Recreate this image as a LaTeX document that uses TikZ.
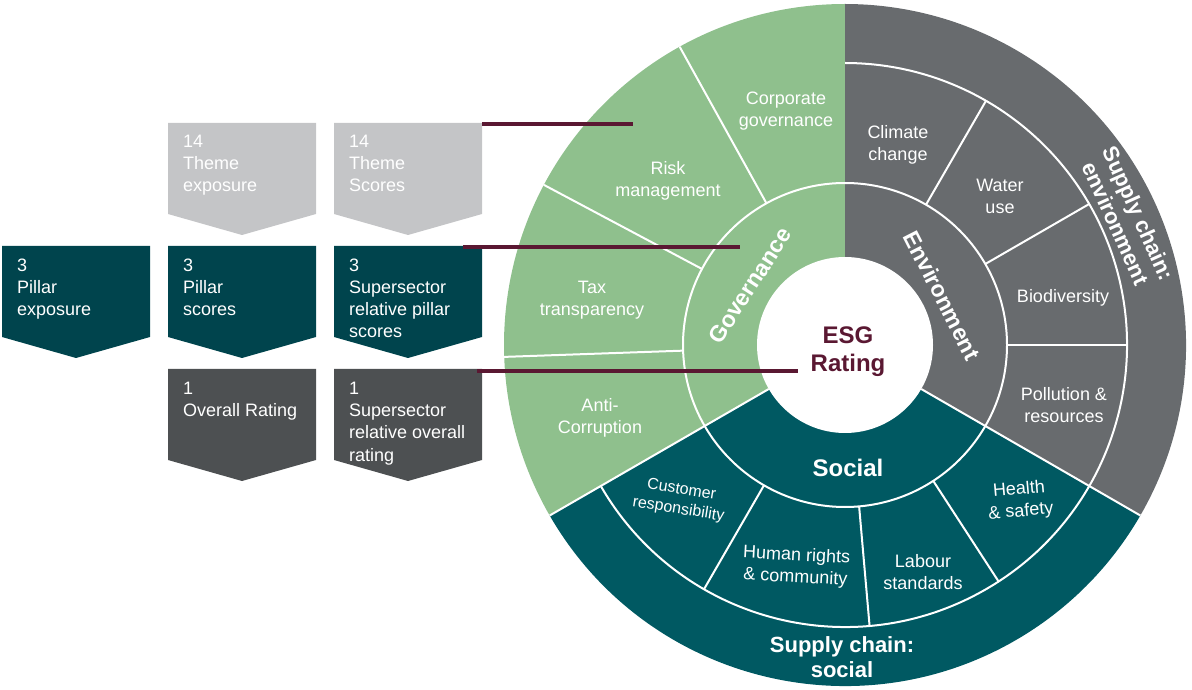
\documentclass[tikz,border=0pt]{standalone}
\usepackage{fontspec}
\setmainfont{Liberation Sans}
\definecolor{govgreen}{RGB}{143,192,141}
\definecolor{envgray}{RGB}{104,107,110}
\definecolor{socteal}{RGB}{0,89,98}
\definecolor{boxteal}{RGB}{0,68,77}
\definecolor{boxlight}{RGB}{196,197,199}
\definecolor{boxdark}{RGB}{77,80,82}
\definecolor{maroon}{RGB}{90,24,50}
\tikzset{
  divider/.style={white, line width=2pt},
  theme/.style={text=white, font=\fontsize{18}{22}\selectfont, align=center, inner sep=0pt},
  pillar/.style={text=white, font=\fontsize{23}{27}\selectfont\bfseries, align=center, inner sep=0pt},
  chain/.style={text=white, font=\fontsize{22}{25}\selectfont\bfseries, align=center, inner sep=0pt},
  boxtext/.style={text=white, font=\fontsize{18}{22}\selectfont, align=left, inner sep=0pt, anchor=base west},
  conn/.style={maroon, line width=3.5pt},
}
\newcommand{\chevbox}[3]{%
  \fill[#3] (#1,#2) -- ++(148,0) -- ++(0,-91) -- ++(-74,-21) -- ++(-74,21) -- cycle;}
\begin{document}
\begin{tikzpicture}[x=1pt,y=1pt]
\useasboundingbox (0,0) rectangle (1192,689);
\coordinate (C) at (845,344);
\begin{scope}[shift={(C)}]
  \fill[govgreen] (0,0) -- (90:341) arc[start angle=90,end angle=210,radius=341] -- cycle;
  \fill[envgray] (0,0) -- (-30:341) arc[start angle=-30,end angle=90,radius=341] -- cycle;
  \fill[socteal] (0,0) -- (210:341) arc[start angle=210,end angle=330,radius=341] -- cycle;
  \draw[divider] (0,0) circle[radius=162];
  \draw[divider] (210:282) arc[start angle=210,end angle=450,radius=282];
  \foreach \a in {210,330} \draw[divider] (\a:88) -- (\a:341);
  \foreach \a in {119,152,182} \draw[divider] (\a:162) -- (\a:341);
  \foreach \a in {0,30,60,240,275,303} \draw[divider] (\a:162) -- (\a:282);
  \fill[white] (0,0) circle[radius=88];
  \node[pillar, rotate=57] (gov) at (148:112) {Governance};
  \node[pillar, rotate=-63] (env) at (27:109) {Environment};
  \node[chain, rotate=-65.8] (sce) at (24.2:309) {Supply chain:\\environment};
\end{scope}
\node[pillar, font=\fontsize{24}{28}\selectfont\bfseries] (soc) at (848,221) {Social};
\node[pillar, text=maroon, font=\fontsize{24}{28}\selectfont\bfseries] (esg) at (848,337) {ESG\\Rating};
\node[chain] (scs) at (842,32) {Supply chain:\\social};
% themes
\node[theme] (t1) at (786,578) {Corporate\\governance};
\node[theme] (t2) at (668,508) {Risk\\management};
\node[theme] (t3) at (592,389) {Tax\\transparency};
\node[theme] (t4) at (600,271) {Anti-\\Corruption};
\node[theme] (t5) at (898,544) {Climate\\change};
\node[theme] (t6) at (1000,493) {Water\\use};
\node[theme] (t7) at (1063,391) {Biodiversity};
\node[theme] (t8) at (1064,284) {Pollution \&\\resources};
\node[theme, rotate=5] (t9) at (1020,188) {Health\\\& safety};
\node[theme] (t10) at (923,117) {Labour\\standards};
\node[theme, rotate=-3] (t11) at (796,122) {Human rights\\\& community};
\node[theme, rotate=-9, font=\fontsize{16}{20}\selectfont] (t12) at (680,189) {Customer\\responsibility};
% boxes
\chevbox{168}{566}{boxlight}
\chevbox{334}{566}{boxlight}
\chevbox{2}{443}{boxteal}
\chevbox{168}{443}{boxteal}
\chevbox{334}{443}{boxteal}
\chevbox{168}{320}{boxdark}
\chevbox{334}{320}{boxdark}
\node[boxtext] (b1) at (183,497) {14\\Theme\\exposure};
\node[boxtext] (b2) at (349,497) {14\\Theme\\Scores};
\node[boxtext] (b3) at (17,373) {3\\Pillar\\exposure};
\node[boxtext] (b4) at (183,373) {3\\Pillar\\scores};
\node[boxtext] (b5) at (349,351) {3\\Supersector\\relative pillar\\scores};
\node[boxtext] (b6) at (183,272) {1\\Overall Rating};
\node[boxtext] (b7) at (349,228) {1\\Supersector\\relative overall\\rating};
% connectors
\coordinate (l1a) at (482,565);
\coordinate (l1b) at (633,565);
\coordinate (l2a) at (463,442);
\coordinate (l2b) at (740,442);
\coordinate (l3a) at (477,318);
\coordinate (l3b) at (798,318);
\draw[conn] (l1a) -- (l1b);
\draw[conn] (l2a) -- (l2b);
\draw[conn] (l3a) -- (l3b);
\end{tikzpicture}
\end{document}
